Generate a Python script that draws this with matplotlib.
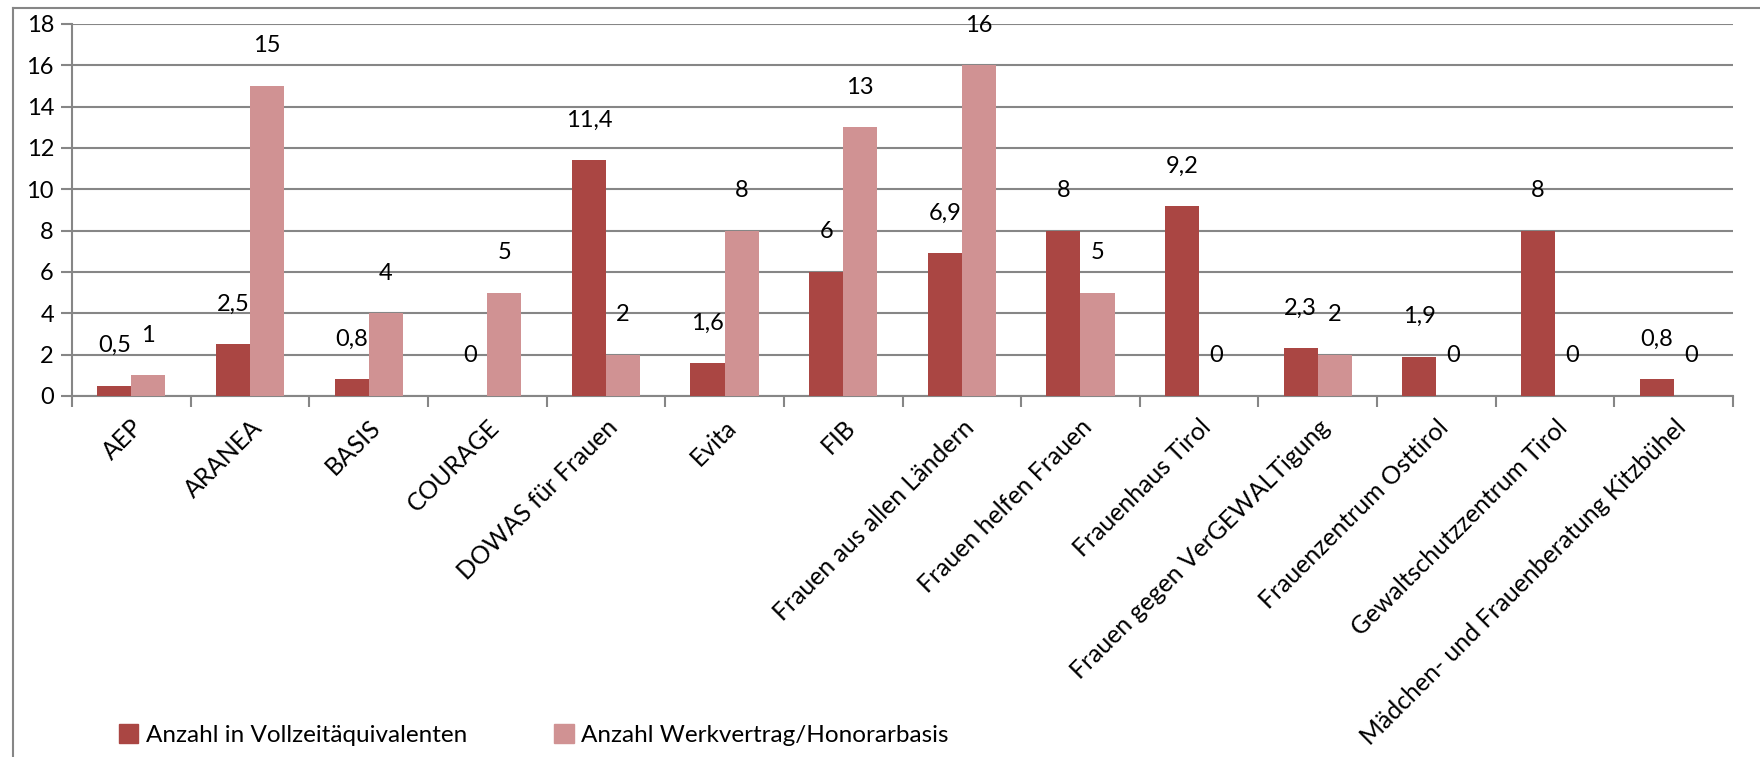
import matplotlib
matplotlib.use("Agg")
import matplotlib.pyplot as plt
import numpy as np
from matplotlib.patches import Patch
from matplotlib.lines import Line2D

categories = ["AEP", "ARANEA", "BASIS", "COURAGE", "DOWAS für Frauen", "Evita", "FIB",
              "Frauen aus allen Ländern", "Frauen helfen Frauen", "Frauenhaus Tirol",
              "Frauen gegen VerGEWALTigung", "Frauenzentrum Osttirol",
              "Gewaltschutzzentrum Tirol", "Mädchen- und Frauenberatung Kitzbühel"]
vollzeit = [0.5, 2.5, 0.8, 0, 11.4, 1.6, 6, 6.9, 8, 9.2, 2.3, 1.9, 8, 0.8]
werkvertrag = [1, 15, 4, 5, 2, 8, 13, 16, 5, 0, 2, 0, 0, 0]
series_names = ["Anzahl in Vollzeitäquivalenten", "Anzahl Werkvertrag/Honorarbasis"]
yticks = [0, 2, 4, 6, 8, 10, 12, 14, 16, 18]

c_dark = "#AA4643"
c_light = "#D09293"
grid_c = "#868686"
FONT = ["Lato", "DejaVu Sans"]
plt.rcParams['font.family'] = FONT

W, H = 1760, 757
fig = plt.figure(figsize=(W / 100, H / 100), dpi=100)
ax = fig.add_axes([72 / W, 1 - 396 / H, (1733 - 72) / W, (396 - 24) / H])

x = np.arange(len(categories))
bw = 0.287
ax.bar(x - bw / 2, vollzeit, width=bw, color=c_dark, zorder=3)
ax.bar(x + bw / 2, werkvertrag, width=bw, color=c_light, zorder=3)

def fmt(v):
    return ("%g" % v).replace(".", ",")

for xi, v in zip(x, vollzeit):
    ax.annotate(fmt(v), (xi - bw / 2, v), xytext=(0, 40), textcoords="offset pixels",
                ha="center", va="center", fontsize=17, color="black")
for xi, v in zip(x, werkvertrag):
    ax.annotate(fmt(v), (xi + bw / 2, v), xytext=(0, 40), textcoords="offset pixels",
                ha="center", va="center", fontsize=17, color="black")

ax.set_xlim(-0.5, len(categories) - 0.5)
ax.set_ylim(0, 18)
ax.set_yticks(yticks)
ax.set_yticklabels([str(t) for t in yticks], fontsize=17)
ax.yaxis.grid(True, color=grid_c, linewidth=1.5, zorder=0)
ax.set_axisbelow(True)

ax.set_xticks(x)
ax.set_xticklabels(categories, rotation=45, ha="right", va="top", rotation_mode="anchor",
                   fontsize=17.8)
ax.tick_params(axis="x", length=0, pad=14)
ax.set_xticks(np.arange(-0.5, len(categories)), minor=True)
ax.tick_params(axis="x", which="minor", length=8, color=grid_c, width=1.5)
ax.tick_params(axis="y", length=8, color=grid_c, width=1.5, pad=5)

for s in ["top", "right"]:
    ax.spines[s].set_visible(False)
for s in ["left", "bottom"]:
    ax.spines[s].set_color(grid_c)
    ax.spines[s].set_linewidth(1.5)

# outer chart border (left and top visible)
fig.add_artist(Line2D([13 / W, 13 / W], [0, 1 - 8 / H], transform=fig.transFigure,
                      color=grid_c, linewidth=1.5))
fig.add_artist(Line2D([13 / W, 1], [1 - 8 / H, 1 - 8 / H], transform=fig.transFigure,
                      color=grid_c, linewidth=1.5))

handles = [Patch(color=c_dark), Patch(color=c_light)]
leg = fig.legend(handles, series_names, loc="center left",
                 bbox_to_anchor=(119 / W, 1 - 735 / H), ncol=2, frameon=False,
                 handlelength=0.8, handleheight=0.8, handletextpad=0.3,
                 columnspacing=3.6, borderaxespad=0, borderpad=0,
                 prop={"family": FONT, "size": 17.5})

fig.savefig("out.png", dpi=100)
